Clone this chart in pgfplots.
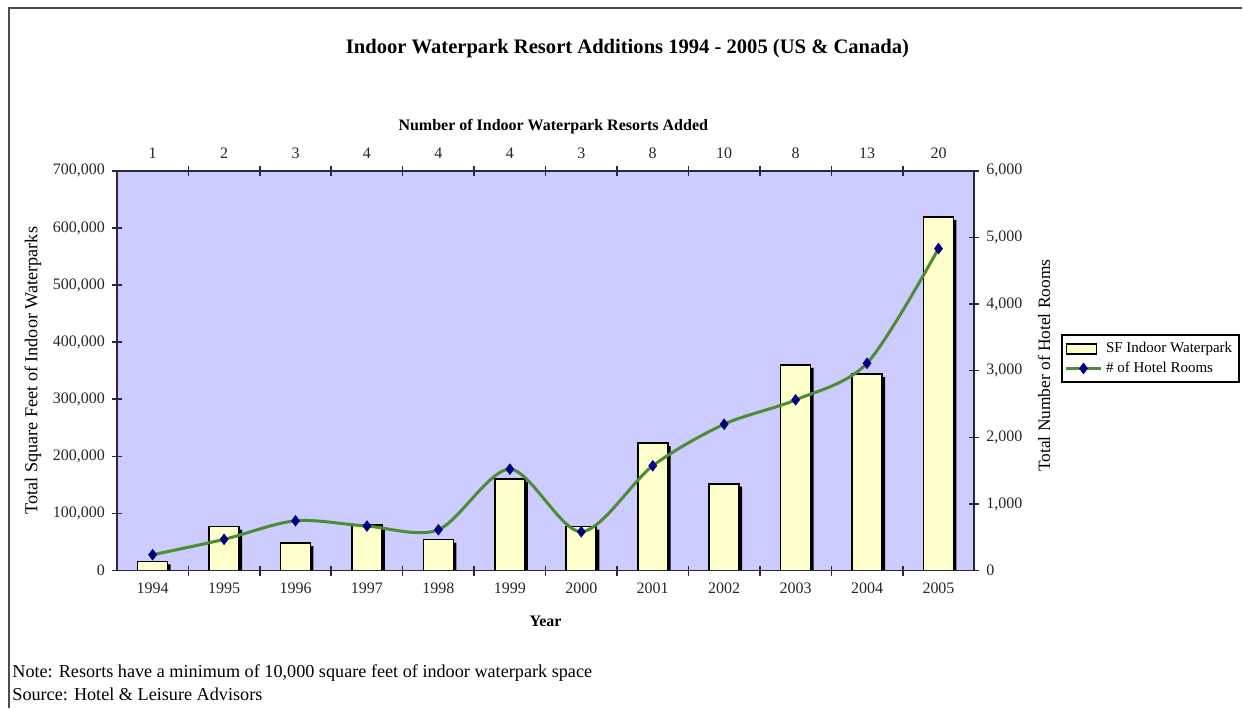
\documentclass[border=0pt]{standalone}
\usepackage{fontspec}
\setmainfont{Liberation Serif}
\usepackage{pgfplots}
\pgfplotsset{compat=1.18}
\usepackage{pgfplotstable}

\definecolor{lavender}{RGB}{204,204,255}
\definecolor{barfill}{RGB}{255,255,204}
\definecolor{linegreen}{RGB}{76,140,52}
\definecolor{navy}{RGB}{0,0,128}
\definecolor{axisc}{RGB}{40,40,70}

% idx, year, SF indoor waterpark, hotel rooms
\pgfplotstableread{
idx year sf     rooms
0   1994 16000  237
1   1995 77000  468
2   1996 48000  747
3   1997 80000  667
4   1998 54000  612
5   1999 160000 1522
6   2000 77000  582
7   2001 223000 1572
8   2002 152000 2197
9   2003 360000 2562
10  2004 344000 3112
11  2005 619000 4833
}\waterdata

\pgfplotsset{
  boxlegend/.style={legend image code/.code={%
    \draw[#1] (0pt,-2.5pt) rectangle (15pt,2.5pt);}},
  common/.style={
    at={(58.5pt,69pt)}, anchor=south west,
    scale only axis, width=429pt, height=200pt,
    xmin=-0.5, xmax=11.5,
    axis line style={axisc, line width=0.8pt},
    tick style={axisc, line width=0.8pt},
    tick align=center,
    major tick length=5pt, minor tick length=5pt,
    xtick={0,...,11},
    minor xtick={0.5,1.5,...,10.5},
    major x tick style={draw=none},
    ticklabel style={font=\fontsize{8}{9}\selectfont, text=black!85},
    /pgf/number format/fixed,
    /pgf/number format/precision=0,
    /pgf/number format/assume math mode=true,
    /pgf/number format/1000 sep={,},
    scaled y ticks=false,
    label style={font=\fontsize{8}{9}\selectfont},
  },
}

\begin{document}
\begin{tikzpicture}
\path (0,0) rectangle (621.5pt,354.5pt);
\draw[line width=1pt, black!70] (4.5pt,0) -- (4.5pt,350.5pt) -- (621.5pt,350.5pt);

\node[font=\bfseries\fontsize{10.3}{12}\selectfont] at (314pt,330pt)
  {Indoor Waterpark Resort Additions 1994 - 2005 (US \& Canada)};

\begin{axis}[common,
  ymin=0, ymax=700000,
  ytick={0,100000,...,700000},
  axis background/.style={fill=lavender},
  xtick pos=lower, xticklabel pos=lower,
  ytick pos=left, yticklabel pos=left,
  xticklabels={1994,1995,1996,1997,1998,1999,2000,2001,2002,2003,2004,2005},
  xlabel={\bfseries Year},
  xlabel style={at={(axis description cs:0.5,-0.1275)}, anchor=center},
  ylabel={Total Square Feet of Indoor Waterparks},
  ylabel style={at={(axis description cs:-0.098,0.5)}, anchor=center,
    font=\fontsize{9.1}{10}\selectfont},
]
\addplot[ybar, bar width=15pt, bar shift=1.5pt, fill=black, draw=none, forget plot]
  table[x=idx, y expr=\thisrow{sf}-5250] {\waterdata};
\addplot[ybar, bar width=15pt, bar shift=0pt, fill=barfill, draw=black, line width=0.8pt]
  table[x=idx, y=sf] {\waterdata};
\end{axis}

\begin{axis}[common,
  ymin=0, ymax=6000,
  ytick={0,1000,...,6000},
  xtick pos=upper, xticklabel pos=upper,
  ytick pos=right, yticklabel pos=right,
  xticklabels={1,2,3,4,4,4,3,8,10,8,13,20},
  xlabel={\bfseries Number of Indoor Waterpark Resorts Added},
  xlabel style={at={(axis description cs:0.509,1.11)}, anchor=center},
  ylabel={Total Number of Hotel Rooms},
  ylabel style={at={(axis description cs:1.0816,0.5125)}, anchor=center,
    font=\fontsize{8.7}{10}\selectfont},
  legend style={at={(axis description cs:1.1014,0.53)}, anchor=west,
    draw=black, line width=0.8pt, font=\fontsize{7.5}{8.6}\selectfont,
    inner sep=1.5pt, row sep=-1pt},
  legend cell align=left,
]
\addlegendimage{boxlegend, fill=barfill, draw=black, line width=0.6pt}
\addlegendentry{SF Indoor Waterpark}
\addplot[linegreen, line width=1.5pt, smooth, tension=0.5,
  mark=diamond*, mark size=2.6pt,
  mark options={fill=navy, draw=navy, line width=0.4pt}]
  table[x=idx, y=rooms] {\waterdata};
\addlegendentry{\# of Hotel Rooms}
\end{axis}

\node[anchor=west, inner sep=0pt, font=\fontsize{9.1}{10}\selectfont] at (6pt,17.5pt)
  {Note: Resorts have a minimum of 10,000 square feet of indoor waterpark space};
\node[anchor=west, inner sep=0pt, font=\fontsize{9.1}{10}\selectfont] at (6pt,7pt)
  {Source: Hotel \& Leisure Advisors};
\end{tikzpicture}
\end{document}
